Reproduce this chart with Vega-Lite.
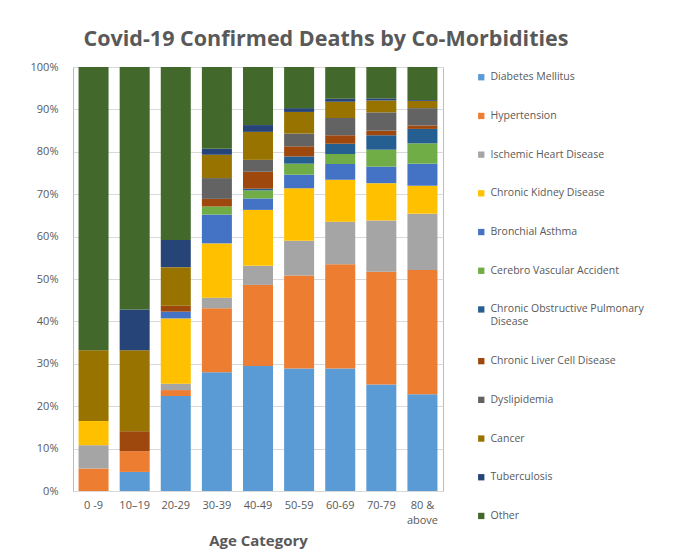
{
  "$schema": "https://vega.github.io/schema/vega-lite/v6.json",
  "width": 370,
  "height": 424,
  "autosize": "none",
  "padding": {"left": 73, "top": 67, "right": 245, "bottom": 58},
  "background": "white",
  "title": {"text": "Covid-19 Confirmed Deaths by Co-Morbidities", "font": "Open Sans", "fontSize": 21.5, "fontWeight": "bold", "color": "#595959", "anchor": "middle", "dx": 68, "offset": 11},
  "data": {"values": [
    {"a": "0 -9", "c": "Hypertension", "v": 5.3},
    {"a": "0 -9", "c": "Ischemic Heart Disease", "v": 5.5},
    {"a": "0 -9", "c": "Chronic Kidney Disease", "v": 5.7},
    {"a": "0 -9", "c": "Cancer", "v": 16.7},
    {"a": "0 -9", "c": "Other", "v": 66.8},
    {"a": "10–19", "c": "Diabetes Mellitus", "v": 4.5},
    {"a": "10–19", "c": "Hypertension", "v": 4.9},
    {"a": "10–19", "c": "Chronic Liver Cell Disease", "v": 4.7},
    {"a": "10–19", "c": "Cancer", "v": 19.1},
    {"a": "10–19", "c": "Tuberculosis", "v": 9.6},
    {"a": "10–19", "c": "Other", "v": 57.2},
    {"a": "20-29", "c": "Diabetes Mellitus", "v": 22.4},
    {"a": "20-29", "c": "Hypertension", "v": 1.4},
    {"a": "20-29", "c": "Ischemic Heart Disease", "v": 1.5},
    {"a": "20-29", "c": "Chronic Kidney Disease", "v": 15.4},
    {"a": "20-29", "c": "Bronchial Asthma", "v": 1.6},
    {"a": "20-29", "c": "Chronic Liver Cell Disease", "v": 1.4},
    {"a": "20-29", "c": "Cancer", "v": 9.1},
    {"a": "20-29", "c": "Tuberculosis", "v": 6.4},
    {"a": "20-29", "c": "Other", "v": 40.8},
    {"a": "30-39", "c": "Diabetes Mellitus", "v": 28.0},
    {"a": "30-39", "c": "Hypertension", "v": 15.1},
    {"a": "30-39", "c": "Ischemic Heart Disease", "v": 2.5},
    {"a": "30-39", "c": "Chronic Kidney Disease", "v": 12.8},
    {"a": "30-39", "c": "Bronchial Asthma", "v": 6.8},
    {"a": "30-39", "c": "Cerebro Vascular Accident", "v": 1.9},
    {"a": "30-39", "c": "Chronic Liver Cell Disease", "v": 1.8},
    {"a": "30-39", "c": "Dyslipidemia", "v": 4.9},
    {"a": "30-39", "c": "Cancer", "v": 5.5},
    {"a": "30-39", "c": "Tuberculosis", "v": 1.4},
    {"a": "30-39", "c": "Other", "v": 19.3},
    {"a": "40-49", "c": "Diabetes Mellitus", "v": 29.5},
    {"a": "40-49", "c": "Hypertension", "v": 19.1},
    {"a": "40-49", "c": "Ischemic Heart Disease", "v": 4.5},
    {"a": "40-49", "c": "Chronic Kidney Disease", "v": 13.2},
    {"a": "40-49", "c": "Bronchial Asthma", "v": 2.7},
    {"a": "40-49", "c": "Cerebro Vascular Accident", "v": 1.9},
    {"a": "40-49", "c": "Chronic Obstructive Pulmonary Disease", "v": 0.4},
    {"a": "40-49", "c": "Chronic Liver Cell Disease", "v": 4.0},
    {"a": "40-49", "c": "Dyslipidemia", "v": 2.8},
    {"a": "40-49", "c": "Cancer", "v": 6.6},
    {"a": "40-49", "c": "Tuberculosis", "v": 1.6},
    {"a": "40-49", "c": "Other", "v": 13.7},
    {"a": "50-59", "c": "Diabetes Mellitus", "v": 28.9},
    {"a": "50-59", "c": "Hypertension", "v": 21.9},
    {"a": "50-59", "c": "Ischemic Heart Disease", "v": 8.2},
    {"a": "50-59", "c": "Chronic Kidney Disease", "v": 12.4},
    {"a": "50-59", "c": "Bronchial Asthma", "v": 3.2},
    {"a": "50-59", "c": "Cerebro Vascular Accident", "v": 2.6},
    {"a": "50-59", "c": "Chronic Obstructive Pulmonary Disease", "v": 1.7},
    {"a": "50-59", "c": "Chronic Liver Cell Disease", "v": 2.4},
    {"a": "50-59", "c": "Dyslipidemia", "v": 3.0},
    {"a": "50-59", "c": "Cancer", "v": 5.1},
    {"a": "50-59", "c": "Tuberculosis", "v": 0.9},
    {"a": "50-59", "c": "Other", "v": 9.7},
    {"a": "60-69", "c": "Diabetes Mellitus", "v": 28.9},
    {"a": "60-69", "c": "Hypertension", "v": 24.6},
    {"a": "60-69", "c": "Ischemic Heart Disease", "v": 10.0},
    {"a": "60-69", "c": "Chronic Kidney Disease", "v": 9.9},
    {"a": "60-69", "c": "Bronchial Asthma", "v": 3.7},
    {"a": "60-69", "c": "Cerebro Vascular Accident", "v": 2.4},
    {"a": "60-69", "c": "Chronic Obstructive Pulmonary Disease", "v": 2.4},
    {"a": "60-69", "c": "Chronic Liver Cell Disease", "v": 2.0},
    {"a": "60-69", "c": "Dyslipidemia", "v": 4.1},
    {"a": "60-69", "c": "Cancer", "v": 3.8},
    {"a": "60-69", "c": "Tuberculosis", "v": 0.7},
    {"a": "60-69", "c": "Other", "v": 7.5},
    {"a": "70-79", "c": "Diabetes Mellitus", "v": 25.1},
    {"a": "70-79", "c": "Hypertension", "v": 26.6},
    {"a": "70-79", "c": "Ischemic Heart Disease", "v": 12.1},
    {"a": "70-79", "c": "Chronic Kidney Disease", "v": 8.8},
    {"a": "70-79", "c": "Bronchial Asthma", "v": 3.9},
    {"a": "70-79", "c": "Cerebro Vascular Accident", "v": 4.0},
    {"a": "70-79", "c": "Chronic Obstructive Pulmonary Disease", "v": 3.4},
    {"a": "70-79", "c": "Chronic Liver Cell Disease", "v": 1.1},
    {"a": "70-79", "c": "Dyslipidemia", "v": 4.3},
    {"a": "70-79", "c": "Cancer", "v": 2.8},
    {"a": "70-79", "c": "Tuberculosis", "v": 0.5},
    {"a": "70-79", "c": "Other", "v": 7.4},
    {"a": "80 & above", "c": "Diabetes Mellitus", "v": 22.8},
    {"a": "80 & above", "c": "Hypertension", "v": 29.3},
    {"a": "80 & above", "c": "Ischemic Heart Disease", "v": 13.3},
    {"a": "80 & above", "c": "Chronic Kidney Disease", "v": 6.6},
    {"a": "80 & above", "c": "Bronchial Asthma", "v": 5.2},
    {"a": "80 & above", "c": "Cerebro Vascular Accident", "v": 4.8},
    {"a": "80 & above", "c": "Chronic Obstructive Pulmonary Disease", "v": 3.4},
    {"a": "80 & above", "c": "Chronic Liver Cell Disease", "v": 0.8},
    {"a": "80 & above", "c": "Dyslipidemia", "v": 4.1},
    {"a": "80 & above", "c": "Cancer", "v": 1.7},
    {"a": "80 & above", "c": "Tuberculosis", "v": 0.2},
    {"a": "80 & above", "c": "Other", "v": 7.8}
  ]},
  "transform": [
    {"calculate": "indexof(['Diabetes Mellitus', 'Hypertension', 'Ischemic Heart Disease', 'Chronic Kidney Disease', 'Bronchial Asthma', 'Cerebro Vascular Accident', 'Chronic Obstructive Pulmonary Disease', 'Chronic Liver Cell Disease', 'Dyslipidemia', 'Cancer', 'Tuberculosis', 'Other'], datum.c)", "as": "k"}
  ],
  "mark": {"type": "bar"},
  "encoding": {
    "x": {
      "field": "a", "type": "nominal",
      "sort": ["0 -9", "10–19", "20-29", "30-39", "40-49", "50-59", "60-69", "70-79", "80 & above"],
      "scale": {"paddingInner": 0.27, "paddingOuter": 0.135},
      "axis": {
        "title": "Age Category", "labelAngle": 0, "ticks": false, "domain": false,
        "labelPadding": 8, "labelOverlap": false, "labelFont": "Open Sans", "labelFontSize": 11,
        "labelLineHeight": 15,
        "labelColor": "#595959", "titleFont": "Open Sans", "titleFontSize": 15, "titleFontWeight": "bold",
        "titleColor": "#595959", "titlePadding": 8,
        "labelExpr": "datum.value == '80 & above' ? ['80 &', 'above'] : datum.label"
      }
    },
    "y": {
      "field": "v", "type": "quantitative", "stack": "normalize",
      "scale": {"domain": [0, 1]},
      "axis": {
        "title": null, "format": ".0%", "values": [0, 0.1, 0.2, 0.3, 0.4, 0.5, 0.6, 0.7, 0.8, 0.9, 1],
        "domain": false, "ticks": false, "labelPadding": 15, "labelFont": "Open Sans", "labelFontSize": 11,
        "labelColor": "#595959", "gridColor": "#D9D9D9"
      }
    },
    "order": {"field": "k", "type": "quantitative", "sort": "ascending"},
    "color": {
      "field": "c", "type": "nominal",
      "sort": ["Diabetes Mellitus", "Hypertension", "Ischemic Heart Disease", "Chronic Kidney Disease", "Bronchial Asthma", "Cerebro Vascular Accident", "Chronic Obstructive Pulmonary Disease", "Chronic Liver Cell Disease", "Dyslipidemia", "Cancer", "Tuberculosis", "Other"],
      "scale": {
        "domain": ["Diabetes Mellitus", "Hypertension", "Ischemic Heart Disease", "Chronic Kidney Disease", "Bronchial Asthma", "Cerebro Vascular Accident", "Chronic Obstructive Pulmonary Disease", "Chronic Liver Cell Disease", "Dyslipidemia", "Cancer", "Tuberculosis", "Other"],
        "range": ["#5B9BD5", "#ED7D31", "#A5A5A5", "#FFC000", "#4472C4", "#70AD47", "#255E91", "#9E480E", "#636363", "#997300", "#264478", "#43682B"]
      },
      "legend": {
        "orient": "none", "legendX": 403, "legendY": 5, "title": null,
        "symbolType": "square", "symbolSize": 40, "symbolStrokeWidth": 0,
        "labelFont": "Open Sans", "labelFontSize": 10.5, "labelColor": "#595959", "labelLimit": 300,
        "rowPadding": 27.7,
        "labelExpr": "datum.label == 'Chronic Obstructive Pulmonary Disease' ? ['Chronic Obstructive Pulmonary', 'Disease'] : datum.label"
      }
    }
  },
  "config": {"view": {"stroke": "#9DC3E6"}}
}
